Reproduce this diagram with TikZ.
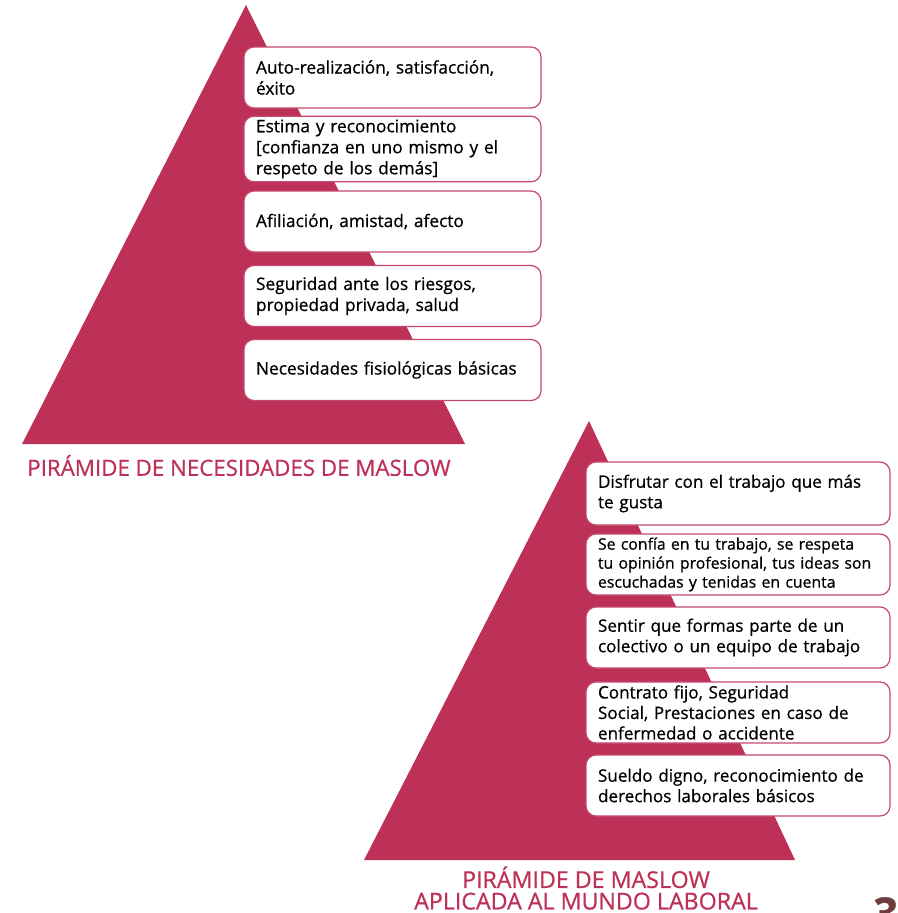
\documentclass[tikz,border=0pt]{standalone}
\usepackage{fontspec}
\setmainfont{Open Sans}[FakeBold=0.7]
\definecolor{pyr}{HTML}{BD3159}
\definecolor{boxline}{HTML}{C4486E}
\definecolor{pagenum}{HTML}{6E3D3D}
\begin{document}
\begin{tikzpicture}[x=1pt,y=-1pt,
  boxA/.style={draw=boxline,line width=1.2pt,fill=white,rounded corners=10pt,
    rectangle,minimum width=297pt,minimum height=61pt,text width=273pt,inner xsep=12pt,
    align=left,font=\fontsize{17.3}{21}\selectfont,text=black},
  boxB/.style={boxA,minimum width=304pt,text width=280pt,
    font=\fontsize{17.1}{20.5}\selectfont},
  title/.style={text=pyr,inner sep=0pt,align=center}]
\useasboundingbox (0,0) rectangle (897,913);
% pyramid 1
\fill[pyr] (246,5) -- (465,444) -- (22,444) -- cycle;
\node[boxA] (a1) at (392.5,77.5) {Auto-realización, satisfacción,\\éxito};
\node[boxA,minimum height=62pt] (a2) at (392.5,149) {Estima y reconocimiento\\{}[confianza en uno mismo y el\\respeto de los demás]};
\node[boxA] (a3) at (392.5,221.5) {Afiliación, amistad, afecto};
\node[boxA] (a4) at (392.5,296) {\makebox[273pt][s]{Seguridad ante los riesgos,}\\propiedad privada, salud};
\node[boxA] (a5) at (392.5,370) {Necesidades fisiológicas básicas};
\node[title,font=\fontsize{22.3}{23}\selectfont] (t1) at (239,465.5) {PIRÁMIDE DE NECESIDADES DE MASLOW};
% pyramid 2
\fill[pyr] (589,421) -- (795,860) -- (364,860) -- cycle;
\node[boxB,minimum height=63pt] (b1) at (738,493.5) {\makebox[280pt][s]{Disfrutar con el trabajo que más}\\te gusta};
\node[boxB,font=\fontsize{15.8}{19}\selectfont] (b2) at (738,564.5) {\mbox{Se confía en tu trabajo, se respeta}\\\mbox{tu opinión profesional, tus ideas son}\\\mbox{escuchadas y tenidas en cuenta}};
\node[boxB] (b3) at (738,637.5) {Sentir que formas parte de un\\colectivo o un equipo de trabajo};
\node[boxB] (b4) at (738,712.5) {Contrato fijo, Seguridad\\Social, Prestaciones en caso de\\enfermedad o accidente};
\node[boxB] (b5) at (738,785.5) {Sueldo digno, reconocimiento de\\derechos laborales básicos};
\node[title,font=\fontsize{23.2}{21.5}\selectfont] (t2) at (586,888) {PIRÁMIDE DE MASLOW\\APLICADA AL MUNDO LABORAL};
\node[anchor=north west,inner sep=0pt,text=pagenum,font=\fontsize{44}{44}\bfseries\selectfont] (pg) at (873,897) {3};
\end{tikzpicture}
\end{document}
